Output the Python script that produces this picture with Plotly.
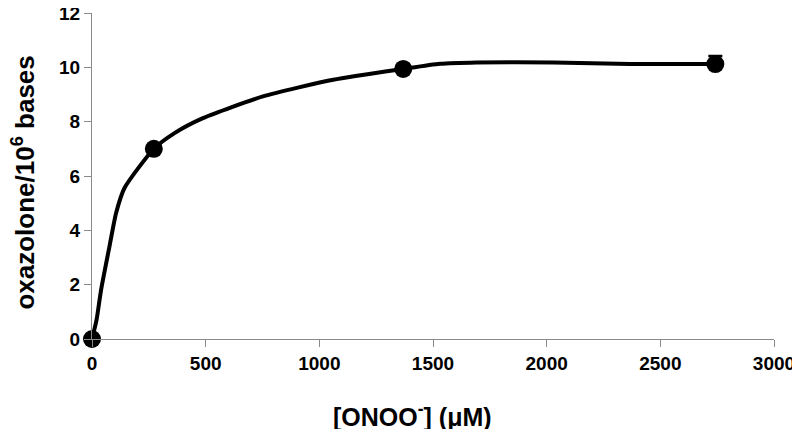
import plotly.graph_objects as go

# measured data points
onoo = [0, 272, 1369, 2742]
oxazolone = [0.0, 7.0, 9.94, 10.12]
err_up = [0, 0, 0, 0.3]

# fitted / smoothed curve
curve_x = [0, 20, 40, 77, 106, 143, 272, 363, 488, 752, 1061, 1369, 1531, 1692, 2030, 2368, 2742]
curve_y = [0.0, 0.7, 1.81, 3.41, 4.64, 5.56, 7.0, 7.58, 8.13, 8.93, 9.54, 9.94, 10.13, 10.18, 10.18, 10.12, 10.12]

x_ticks = [0, 500, 1000, 1500, 2000, 2500, 3000]
y_ticks = [0, 2, 4, 6, 8, 10, 12]

x_title = "<b>[ONOO<sup>-</sup>] (μM)</b>"
y_title = "<b>oxazolone/10<sup>6</sup> bases</b>"

fig = go.Figure()
fig.add_trace(go.Scatter(
    x=curve_x, y=curve_y, mode="lines",
    line=dict(color="black", width=4, shape="spline", smoothing=0.6),
    cliponaxis=False, showlegend=False, hoverinfo="skip"))
fig.add_trace(go.Scatter(
    x=onoo, y=oxazolone, mode="markers",
    marker=dict(color="black", size=18),
    error_y=dict(type="data", array=err_up, arrayminus=[0, 0, 0, 0], symmetric=False,
                 color="black", thickness=2.5, width=7),
    cliponaxis=False, showlegend=False))

font_family = "Liberation Sans, Arial, sans-serif"
fig.update_layout(
    width=800, height=429,
    margin=dict(l=84, r=34, t=5, b=98),
    paper_bgcolor="white", plot_bgcolor="white",
    font=dict(family=font_family, color="black"),
    xaxis=dict(
        range=[0, 3000], tickvals=x_ticks, ticktext=[str(v) for v in x_ticks],
        showgrid=False, zeroline=False, showline=True, linecolor="#8a8a8a", linewidth=1,
        ticks="outside", ticklen=7, tickcolor="#8a8a8a", automargin=False,
        ticklabeloverflow="allow",
        tickfont=dict(size=19, family=font_family, color="black", weight="bold"),
    ),
    yaxis=dict(
        range=[0, 12], tickvals=y_ticks, ticktext=[str(v) for v in y_ticks],
        showgrid=False, zeroline=False, showline=True, linecolor="#8a8a8a", linewidth=1,
        ticks="outside", ticklen=7, tickcolor="#8a8a8a", automargin=False,
        ticklabeloverflow="allow",
        tickfont=dict(size=19, family=font_family, color="black", weight="bold"),
    ),
    annotations=[
        dict(text=x_title, xref="paper", yref="paper", x=0.4706, y=-0.232,
             xanchor="center", yanchor="middle", showarrow=False,
             font=dict(size=25, family=font_family, color="black")),
        dict(text=y_title, xref="paper", yref="paper", x=-0.1006, y=0.481,
             xanchor="center", yanchor="middle", showarrow=False, textangle=-90,
             font=dict(size=26, family=font_family, color="black")),
    ],
)

fig.write_html("out.html")
